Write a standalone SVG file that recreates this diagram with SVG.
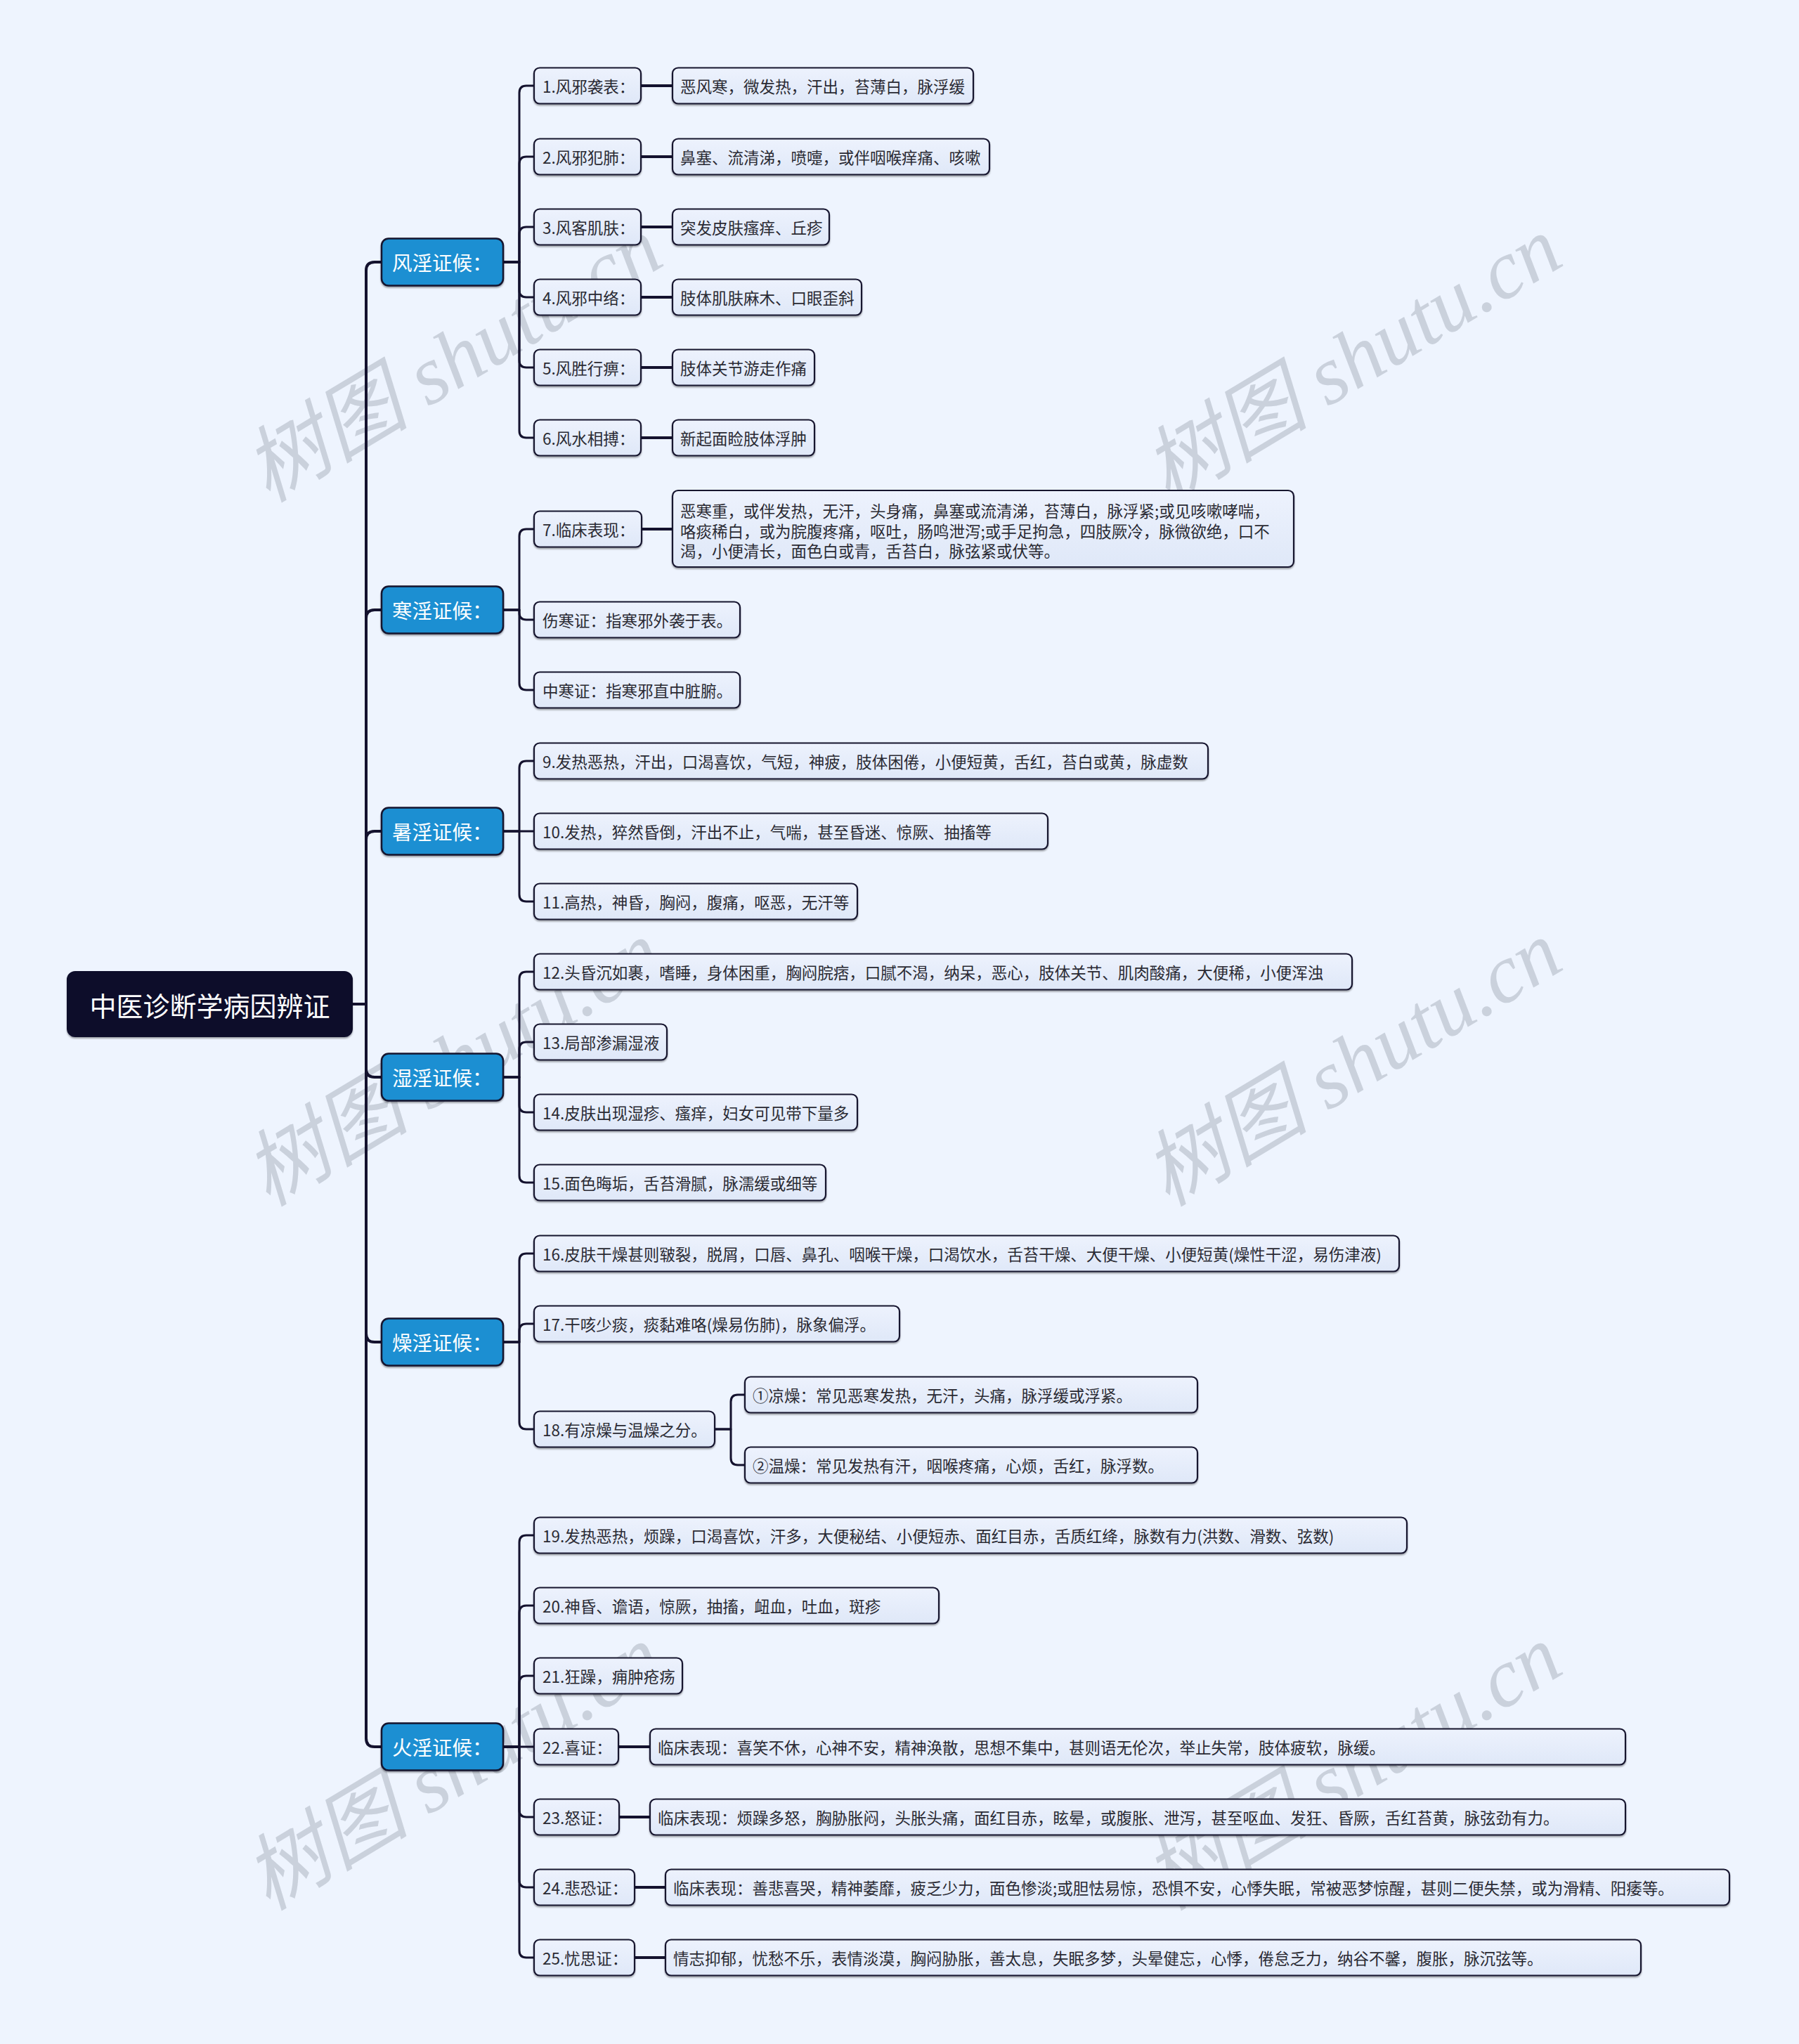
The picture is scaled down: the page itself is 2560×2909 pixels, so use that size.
<svg xmlns="http://www.w3.org/2000/svg" width="2560" height="2909" viewBox="0 0 2560 2909">
<defs>
<linearGradient id="gLeaf" x1="0" y1="0" x2="0" y2="1">
<stop offset="0" stop-color="#edf2fd"/>
<stop offset="1" stop-color="#dfe8f8"/>
</linearGradient>
<filter id="sh" x="-5%" y="-20%" width="110%" height="150%">
<feDropShadow dx="0" dy="2" stdDeviation="1.2" flood-color="#000" flood-opacity="0.35"/>
</filter>
<style>
.bg{fill:#eef4fe}
.wm{font-family:"Liberation Serif","Noto Sans CJK SC",serif;font-style:italic;font-size:118px;fill:#b8c0cc;fill-opacity:0.68}
.root rect{fill:#0d0b2b;stroke:#0d0b2b;stroke-width:2}
.l1 rect{fill:#1b8fd2;stroke:#14122e;stroke-width:2.5}
.l2 rect{fill:url(#gLeaf);stroke:#14122e;stroke-width:2.2}
.node rect{filter:url(#sh)}
text{font-family:"Noto Sans CJK SC","Microsoft YaHei",sans-serif;dominant-baseline:central}
.troot{font-size:38px;fill:#ffffff;text-anchor:middle}
.t1{font-size:28.5px;fill:#ffffff}
.t2{font-size:22.5px;fill:#2a2a33}
.conn path{fill:none;stroke:#14122e;stroke-width:3;stroke-linecap:round;stroke-linejoin:round}
.conn path.main{stroke-width:4}
</style>
</defs>
<rect class="bg" x="0" y="0" width="2560" height="2909"/>

<g id="watermarks">
<text class="wm" x="645" y="512" text-anchor="middle" transform="rotate(-31 645 512)">树图 shutu.cn</text>
<text class="wm" x="1925" y="512" text-anchor="middle" transform="rotate(-31 1925 512)">树图 shutu.cn</text>
<text class="wm" x="645" y="1514" text-anchor="middle" transform="rotate(-31 645 1514)">树图 shutu.cn</text>
<text class="wm" x="1925" y="1514" text-anchor="middle" transform="rotate(-31 1925 1514)">树图 shutu.cn</text>
<text class="wm" x="645" y="2516" text-anchor="middle" transform="rotate(-31 645 2516)">树图 shutu.cn</text>
<text class="wm" x="1925" y="2516" text-anchor="middle" transform="rotate(-31 1925 2516)">树图 shutu.cn</text>
</g>

<g id="connectors" class="conn">
<path class="main" d="M501,1429 H521 V385 Q521,373 533,373 H543"/>
<path class="main" d="M501,1429 H521 V880 Q521,868 533,868 H543"/>
<path class="main" d="M501,1429 H521 V1195 Q521,1183 533,1183 H543"/>
<path class="main" d="M501,1429 H521 V1521 Q521,1533 533,1533 H543"/>
<path class="main" d="M501,1429 H521 V1898 Q521,1910 533,1910 H543"/>
<path class="main" d="M501,1429 H521 V2474 Q521,2486 533,2486 H543"/>

<path d="M716,373 H739 V132 Q739,122 749,122 H760"/>
<path d="M716,373 H739 V233 Q739,223 749,223 H760"/>
<path d="M716,373 H739 V333 Q739,323 749,323 H760"/>
<path d="M716,373 H739 V413 Q739,423 749,423 H760"/>
<path d="M716,373 H739 V513 Q739,523 749,523 H760"/>
<path d="M716,373 H739 V613 Q739,623 749,623 H760"/>

<path d="M716,868 H739 V763 Q739,753 749,753 H760"/>
<path d="M716,868 H739 V872 Q739,882 749,882 H760"/>
<path d="M716,868 H739 V972 Q739,982 749,982 H760"/>

<path d="M716,1183 H739 V1093 Q739,1083 749,1083 H760"/>
<path d="M716,1183 H760"/>
<path d="M716,1183 H739 V1273 Q739,1283 749,1283 H760"/>

<path d="M716,1533 H739 V1393 Q739,1383 749,1383 H760"/>
<path d="M716,1533 H739 V1493 Q739,1483 749,1483 H760"/>
<path d="M716,1533 H739 V1573 Q739,1583 749,1583 H760"/>
<path d="M716,1533 H739 V1673 Q739,1683 749,1683 H760"/>

<path d="M716,1910 H739 V1794 Q739,1784 749,1784 H760"/>
<path d="M716,1910 H739 V1894 Q739,1884 749,1884 H760"/>
<path d="M716,1910 H739 V2024 Q739,2034 749,2034 H760"/>
<path d="M1017,2034 H1040 V1995 Q1040,1985 1050,1985 H1060"/>
<path d="M1017,2034 H1040 V2075 Q1040,2085 1050,2085 H1060"/>

<path d="M716,2486 H739 V2195 Q739,2185 749,2185 H760"/>
<path d="M716,2486 H739 V2295 Q739,2285 749,2285 H760"/>
<path d="M716,2486 H739 V2395 Q739,2385 749,2385 H760"/>
<path d="M716,2486 H760"/>
<path d="M716,2486 H739 V2576 Q739,2586 749,2586 H760"/>
<path d="M716,2486 H739 V2676 Q739,2686 749,2686 H760"/>
<path d="M716,2486 H739 V2776 Q739,2786 749,2786 H760"/>

<path class="main" d="M912,122 H957"/>
<path class="main" d="M912,223 H957"/>
<path class="main" d="M912,323 H957"/>
<path class="main" d="M912,423 H957"/>
<path class="main" d="M912,523 H957"/>
<path class="main" d="M912,623 H957"/>
<path class="main" d="M913,753 H957"/>
<path class="main" d="M880,2486 H925"/>
<path class="main" d="M881,2586 H925"/>
<path class="main" d="M903,2686 H947"/>
<path class="main" d="M903,2786 H947"/>
</g>

<g id="root" class="node root">
<rect x="96" y="1383" width="405" height="92" rx="11"/>
<text class="troot" x="298.5" y="1429">中医诊断学病因辨证</text>
</g>

<g id="n-feng" class="node l1"><rect x="543" y="339.5" width="173" height="67" rx="10"/><text class="t1" x="558" y="372">风淫证候：</text></g>
<g id="n-han" class="node l1"><rect x="543" y="834.5" width="173" height="67" rx="10"/><text class="t1" x="558" y="867">寒淫证候：</text></g>
<g id="n-shu" class="node l1"><rect x="543" y="1149.5" width="173" height="67" rx="10"/><text class="t1" x="558" y="1182">暑淫证候：</text></g>
<g id="n-shi" class="node l1"><rect x="543" y="1499.5" width="173" height="67" rx="10"/><text class="t1" x="558" y="1532">湿淫证候：</text></g>
<g id="n-zao" class="node l1"><rect x="543" y="1876.5" width="173" height="67" rx="10"/><text class="t1" x="558" y="1909">燥淫证候：</text></g>
<g id="n-huo" class="node l1"><rect x="543" y="2452.5" width="173" height="67" rx="10"/><text class="t1" x="558" y="2485">火淫证候：</text></g>

<g id="n1" class="node l2"><rect x="760" y="96.5" width="152" height="51" rx="8"/><text class="t2" x="772" y="122">1.风邪袭表：</text></g>
<g id="n1a" class="node l2"><rect x="957" y="96.5" width="428" height="51" rx="8"/><text class="t2" x="968" y="122">恶风寒，微发热，汗出，苔薄白，脉浮缓</text></g>
<g id="n2" class="node l2"><rect x="760" y="197.5" width="152" height="51" rx="8"/><text class="t2" x="772" y="223">2.风邪犯肺：</text></g>
<g id="n2a" class="node l2"><rect x="957" y="197.5" width="451" height="51" rx="8"/><text class="t2" x="968" y="223">鼻塞、流清涕，喷嚏，或伴咽喉痒痛、咳嗽</text></g>
<g id="n3" class="node l2"><rect x="760" y="297.5" width="152" height="51" rx="8"/><text class="t2" x="772" y="323">3.风客肌肤：</text></g>
<g id="n3a" class="node l2"><rect x="957" y="297.5" width="223" height="51" rx="8"/><text class="t2" x="968" y="323">突发皮肤瘙痒、丘疹</text></g>
<g id="n4" class="node l2"><rect x="760" y="397.5" width="152" height="51" rx="8"/><text class="t2" x="772" y="423">4.风邪中络：</text></g>
<g id="n4a" class="node l2"><rect x="957" y="397.5" width="269" height="51" rx="8"/><text class="t2" x="968" y="423">肢体肌肤麻木、口眼歪斜</text></g>
<g id="n5" class="node l2"><rect x="760" y="497.5" width="152" height="51" rx="8"/><text class="t2" x="772" y="523">5.风胜行痹：</text></g>
<g id="n5a" class="node l2"><rect x="957" y="497.5" width="202" height="51" rx="8"/><text class="t2" x="968" y="523">肢体关节游走作痛</text></g>
<g id="n6" class="node l2"><rect x="760" y="597.5" width="152" height="51" rx="8"/><text class="t2" x="772" y="623">6.风水相搏：</text></g>
<g id="n6a" class="node l2"><rect x="957" y="597.5" width="202" height="51" rx="8"/><text class="t2" x="968" y="623">新起面睑肢体浮肿</text></g>

<g id="n7" class="node l2"><rect x="760" y="727.5" width="153" height="51" rx="8"/><text class="t2" x="772" y="753">7.临床表现：</text></g>
<g id="n7a" class="node l2"><rect x="957" y="698" width="884" height="109" rx="8"/>
<text class="t2" x="968" y="726">恶寒重，或伴发热，无汗，头身痛，鼻塞或流清涕，苔薄白，脉浮紧;或见咳嗽哮喘，</text>
<text class="t2" x="968" y="754.5">咯痰稀白，或为脘腹疼痛，呕吐，肠鸣泄泻;或手足拘急，四肢厥冷，脉微欲绝，口不</text>
<text class="t2" x="968" y="783">渴，小便清长，面色白或青，舌苔白，脉弦紧或伏等。</text></g>
<g id="n7b" class="node l2"><rect x="760" y="856.5" width="293" height="51" rx="8"/><text class="t2" x="772" y="882">伤寒证：指寒邪外袭于表。</text></g>
<g id="n7c" class="node l2"><rect x="760" y="956.5" width="293" height="51" rx="8"/><text class="t2" x="772" y="982">中寒证：指寒邪直中脏腑。</text></g>

<g id="n9" class="node l2"><rect x="760" y="1057.5" width="959" height="51" rx="8"/><text class="t2" x="772" y="1083">9.发热恶热，汗出，口渴喜饮，气短，神疲，肢体困倦，小便短黄，舌红，苔白或黄，脉虚数</text></g>
<g id="n10" class="node l2"><rect x="760" y="1157.5" width="731" height="51" rx="8"/><text class="t2" x="772" y="1183">10.发热，猝然昏倒，汗出不止，气喘，甚至昏迷、惊厥、抽搐等</text></g>
<g id="n11" class="node l2"><rect x="760" y="1257.5" width="460" height="51" rx="8"/><text class="t2" x="772" y="1283">11.高热，神昏，胸闷，腹痛，呕恶，无汗等</text></g>

<g id="n12" class="node l2"><rect x="760" y="1357.5" width="1164" height="51" rx="8"/><text class="t2" x="772" y="1383">12.头昏沉如裹，嗜睡，身体困重，胸闷脘痞，口腻不渴，纳呆，恶心，肢体关节、肌肉酸痛，大便稀，小便浑浊</text></g>
<g id="n13" class="node l2"><rect x="760" y="1457.5" width="189" height="51" rx="8"/><text class="t2" x="772" y="1483">13.局部渗漏湿液</text></g>
<g id="n14" class="node l2"><rect x="760" y="1557.5" width="460" height="51" rx="8"/><text class="t2" x="772" y="1583">14.皮肤出现湿疹、瘙痒，妇女可见带下量多</text></g>
<g id="n15" class="node l2"><rect x="760" y="1657.5" width="415" height="51" rx="8"/><text class="t2" x="772" y="1683">15.面色晦垢，舌苔滑腻，脉濡缓或细等</text></g>

<g id="n16" class="node l2"><rect x="760" y="1758.5" width="1231" height="51" rx="8"/><text class="t2" x="772" y="1784">16.皮肤干燥甚则皲裂，脱屑，口唇、鼻孔、咽喉干燥，口渴饮水，舌苔干燥、大便干燥、小便短黄(燥性干涩，易伤津液)</text></g>
<g id="n17" class="node l2"><rect x="760" y="1858.5" width="520" height="51" rx="8"/><text class="t2" x="772" y="1884">17.干咳少痰，痰黏难咯(燥易伤肺)，脉象偏浮。</text></g>
<g id="n18" class="node l2"><rect x="760" y="2008.5" width="257" height="51" rx="8"/><text class="t2" x="772" y="2034">18.有凉燥与温燥之分。</text></g>
<g id="n18a" class="node l2"><rect x="1060" y="1959.5" width="644" height="51" rx="8"/><text class="t2" x="1071" y="1985">①凉燥：常见恶寒发热，无汗，头痛，脉浮缓或浮紧。</text></g>
<g id="n18b" class="node l2"><rect x="1060" y="2059.5" width="644" height="51" rx="8"/><text class="t2" x="1071" y="2085">②温燥：常见发热有汗，咽喉疼痛，心烦，舌红，脉浮数。</text></g>

<g id="n19" class="node l2"><rect x="760" y="2159.5" width="1242" height="51" rx="8"/><text class="t2" x="772" y="2185">19.发热恶热，烦躁，口渴喜饮，汗多，大便秘结、小便短赤、面红目赤，舌质红绛，脉数有力(洪数、滑数、弦数)</text></g>
<g id="n20" class="node l2"><rect x="760" y="2259.5" width="576" height="51" rx="8"/><text class="t2" x="772" y="2285">20.神昏、谵语，惊厥，抽搐，衄血，吐血，斑疹</text></g>
<g id="n21" class="node l2"><rect x="760" y="2359.5" width="211" height="51" rx="8"/><text class="t2" x="772" y="2385">21.狂躁，痈肿疮疡</text></g>
<g id="n22" class="node l2"><rect x="760" y="2460.5" width="120" height="51" rx="8"/><text class="t2" x="772" y="2486">22.喜证：</text></g>
<g id="n22a" class="node l2"><rect x="925" y="2460.5" width="1388" height="51" rx="8"/><text class="t2" x="936" y="2486">临床表现：喜笑不休，心神不安，精神涣散，思想不集中，甚则语无伦次，举止失常，肢体疲软，脉缓。</text></g>
<g id="n23" class="node l2"><rect x="760" y="2560.5" width="121" height="51" rx="8"/><text class="t2" x="772" y="2586">23.怒证：</text></g>
<g id="n23a" class="node l2"><rect x="925" y="2560.5" width="1388" height="51" rx="8"/><text class="t2" x="936" y="2586">临床表现：烦躁多怒，胸胁胀闷，头胀头痛，面红目赤，眩晕，或腹胀、泄泻，甚至呕血、发狂、昏厥，舌红苔黄，脉弦劲有力。</text></g>
<g id="n24" class="node l2"><rect x="760" y="2660.5" width="143" height="51" rx="8"/><text class="t2" x="772" y="2686">24.悲恐证：</text></g>
<g id="n24a" class="node l2"><rect x="947" y="2660.5" width="1514" height="51" rx="8"/><text class="t2" x="958" y="2686">临床表现：善悲喜哭，精神萎靡，疲乏少力，面色惨淡;或胆怯易惊，恐惧不安，心悸失眠，常被恶梦惊醒，甚则二便失禁，或为滑精、阳痿等。</text></g>
<g id="n25" class="node l2"><rect x="760" y="2760.5" width="143" height="51" rx="8"/><text class="t2" x="772" y="2786">25.忧思证：</text></g>
<g id="n25a" class="node l2"><rect x="947" y="2760.5" width="1388" height="51" rx="8"/><text class="t2" x="958" y="2786">情志抑郁，忧愁不乐，表情淡漠，胸闷胁胀，善太息，失眠多梦，头晕健忘，心悸，倦怠乏力，纳谷不馨，腹胀，脉沉弦等。</text></g>
</svg>
